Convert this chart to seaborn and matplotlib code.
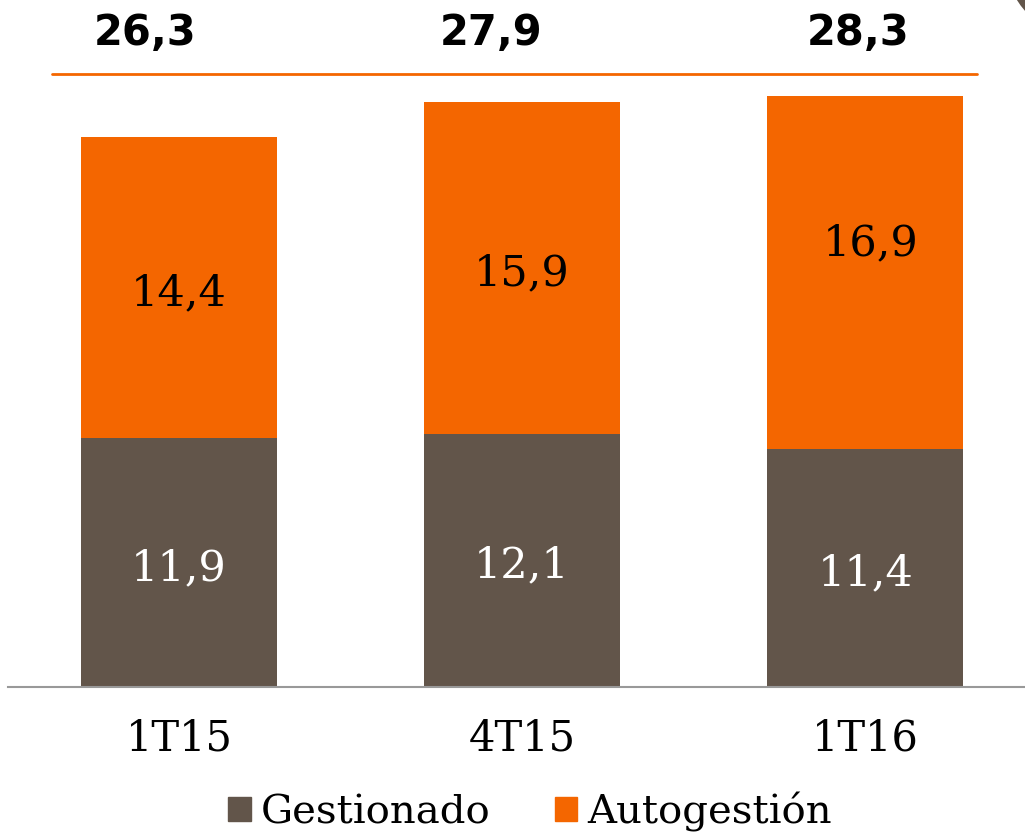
import numpy as np
import pandas as pd
import matplotlib
matplotlib.use('Agg')
import matplotlib.pyplot as plt
import seaborn as sns
from matplotlib.patches import Patch, Circle

# Data
periodos = ['1T15', '4T15', '1T16']
gestionado = [11.9, 12.1, 11.4]
autogestion = [14.4, 15.9, 16.9]
totales = ['26,3', '27,9', '28,3']

color_gest = '#62554A'
color_auto = '#F46600'

df = pd.DataFrame({'periodo': periodos, 'gestionado': gestionado, 'autogestion': autogestion})
df['total'] = df['gestionado'] + df['autogestion']

sns.set_style('white')
plt.rcParams['font.family'] = ['DejaVu Serif']
plt.rcParams['text.color'] = 'black'

fig = plt.figure(figsize=(10.25, 8.35), dpi=100)
ax = fig.add_axes([8 / 1025, (835 - 687) / 835, 1017 / 1025, 687 / 835])

# stacked bars: full height in orange, gestionado on top in gray
sns.barplot(data=df, x='periodo', y='total', color=color_auto, width=0.57,
            saturation=1, ax=ax, linewidth=0)
sns.barplot(data=df, x='periodo', y='gestionado', color=color_gest, width=0.57,
            saturation=1, ax=ax, linewidth=0)

ax.set_xlim(-0.4985, 2.466)
ax.set_ylim(0, 32.87)

# segment labels (small vertical nudges to follow the original slide)
dy_auto = [-0.25, -0.25, 1.4]
for i in range(len(periodos)):
    g = gestionado[i]
    a = autogestion[i]
    ax.text(i, g / 2 - 0.25, f'{g:.1f}'.replace('.', ','), ha='center', va='center',
            color='white', fontsize=31)
    ax.text(i + (0.015 if i == 2 else 0), g + a / 2 + dy_auto[i],
            f'{a:.1f}'.replace('.', ','), ha='center', va='center',
            color='black', fontsize=31)

# totals above orange line
tot_dx = [-0.10, -0.09, -0.02]
for i, t in enumerate(totales):
    ax.text(i + tot_dx[i], 31.3, t, ha='center', va='center', color='black',
            fontsize=30, fontweight='bold', family='DejaVu Sans')
ax.plot([-0.370, 2.327], [29.33, 29.33], color=color_auto, lw=2, clip_on=False)

# axes styling
sns.despine(ax=ax, left=True, top=True, right=True)
ax.spines['bottom'].set_color('#999999')
ax.spines['bottom'].set_linewidth(1.5)
ax.set_yticks([])
ax.set_xlabel('')
ax.set_ylabel('')
ax.tick_params(axis='x', length=0, labelsize=30, pad=22, colors='black')

handles = [Patch(color=color_gest, label='Gestionado'),
           Patch(color=color_auto, label='Autogestión')]
fig.legend(handles=handles, loc='center', bbox_to_anchor=(530 / 1025, 1 - 812 / 835),
           ncol=2, frameon=False, fontsize=29, handlelength=0.55, handleheight=0.55,
           handletextpad=0.25, columnspacing=1.6, labelcolor='black')

# decorative arc in the top right corner
fig.patches.append(Circle((1085, 835 + 42), 80, transform=None, color=color_gest, lw=0))

fig.savefig('out.png', dpi=100)
